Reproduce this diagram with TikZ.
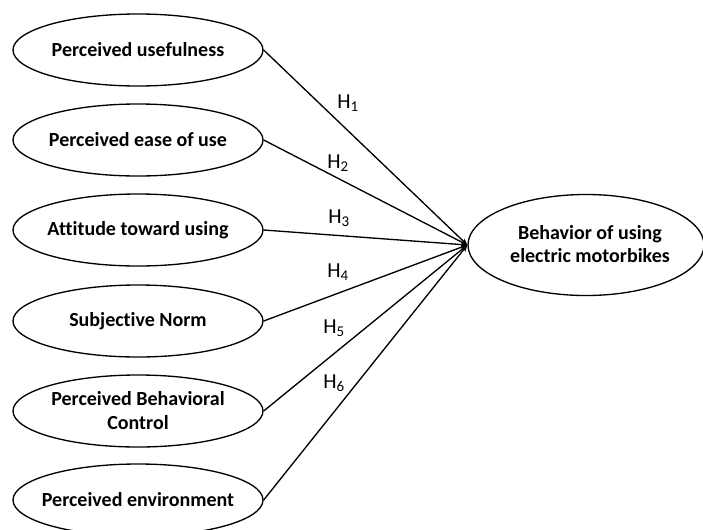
\documentclass[tikz,border=0pt]{standalone}
\usepackage{fontspec}
\setmainfont{Carlito}[Ligatures=NoCommon]
\usetikzlibrary{shapes.geometric,arrows.meta}
\begin{document}
\begin{tikzpicture}[x=0.75pt,y=-0.75pt,
  factor/.style={ellipse,draw,line width=1pt,inner sep=0pt,minimum width={250*0.75pt},minimum height={72*0.75pt}},
  outcome/.style={ellipse,draw,line width=1pt,inner sep=0pt,minimum width={236*0.75pt},minimum height={101*0.75pt}},
  ftext/.style={inner sep=0pt,align=center,font=\fontsize{15}{18}\selectfont\bfseries},
  link/.style={line width=1pt,-{Stealth[length=5pt,width=4pt]}},
  hlab/.style={anchor=base west,inner sep=0pt,font=\fontsize{16}{18}\selectfont}]
\useasboundingbox (0,0) rectangle (703,529);
\node[factor] (f1) at (138,50) {};
\node[factor] (f2) at (138,140) {};
\node[factor] (f3) at (138,230) {};
\node[factor] (f4) at (138,321) {};
\node[factor] (f5) at (138,411) {};
\node[factor] (f6) at (138,500) {};
\node[outcome] (b) at (586,245) {};
\node[ftext] (t1) at (f1) {Perceived usefulness};
\node[ftext] (t2) at (f2) {Perceived ease of use};
\node[ftext] (t3) at (f3) {Attitude toward using};
\node[ftext] (t4) at (f4) {Subjective Norm};
\node[ftext] (t5) at (f5) {Perceived Behavioral\\Control};
\node[ftext] (t6) at (f6) {Perceived environment};
\node[ftext,font=\fontsize{15}{17.5}\selectfont\bfseries] (tb) at (590,244) {Behavior of using\\electric motorbikes};
\foreach \i in {1,...,6} \draw[link] (f\i.east) -- (b.west);
\node[hlab] (h1) at (337,108) {H\textsubscript{1}};
\node[hlab] (h2) at (327,168) {H\textsubscript{2}};
\node[hlab] (h3) at (328,223) {H\textsubscript{3}};
\node[hlab] (h4) at (327,277) {H\textsubscript{4}};
\node[hlab] (h5) at (323,333) {H\textsubscript{5}};
\node[hlab] (h6) at (323,388) {H\textsubscript{6}};
\end{tikzpicture}
\end{document}
